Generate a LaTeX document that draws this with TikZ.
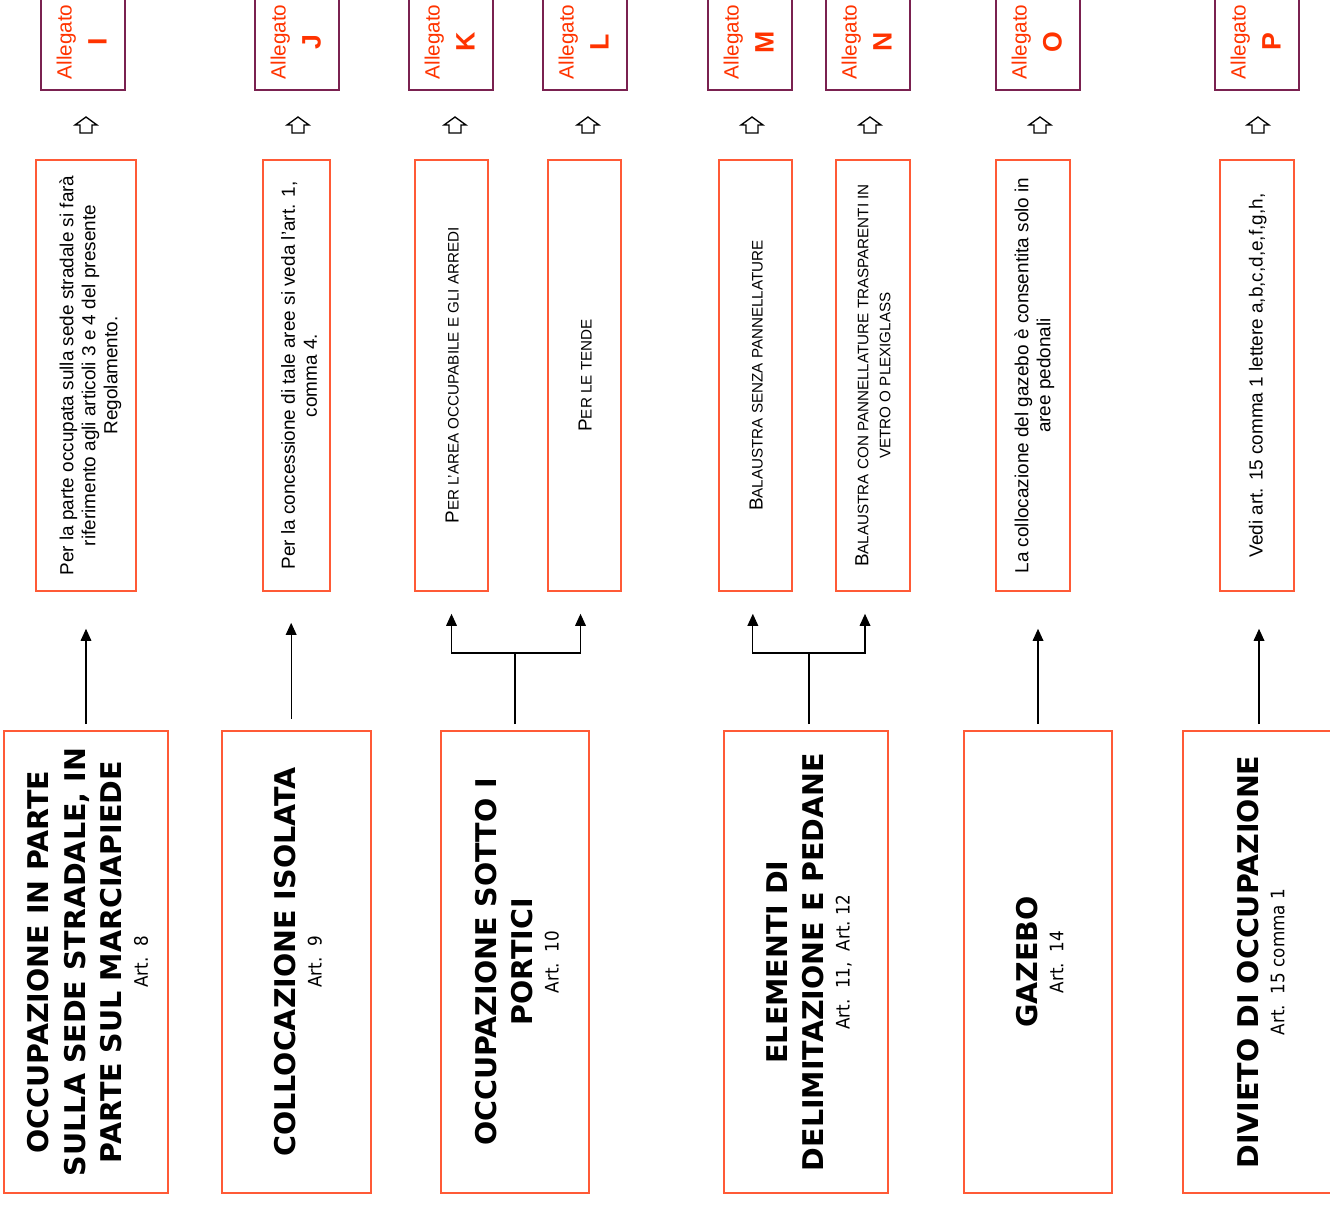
\documentclass[tikz,border=0pt]{standalone}
\usepackage{graphicx}
\usepackage{xcolor}
\usepackage{fontspec}
\setmainfont{Liberation Sans}
\newfontfamily\verdana{DejaVu Sans}
\newfontfamily\artfont{DejaVu Sans Condensed}
\usepackage{tikz}
\usetikzlibrary{arrows.meta}

\definecolor{boxred}{HTML}{FF5A36}
\definecolor{allred}{HTML}{FF3300}
\definecolor{allborder}{HTML}{7A2150}

\newcommand{\titlestyle}{\verdana\bfseries\fontsize{21.4}{27.4}\selectfont}
\newcommand{\artstyle}{\artfont\mdseries\fontsize{14}{16}\selectfont}
\newcommand{\notestyle}{\fontsize{14.2}{16.5}\selectfont}
\newcommand{\fsc}[2]{{\fontsize{14.2}{16.5}\selectfont #1}{\fontsize{11.4}{13}\selectfont #2}}
% rotated text, nudged to the right by half of #1
\newcommand{\turned}[2][7.5pt]{\hspace{#1}\rotatebox{90}{#2}}
\newcommand{\headtext}[2]{\turned{\titlestyle\begin{tabular}{@{}c@{}}#1\\[-8pt]\artstyle #2\end{tabular}}}
\newcommand{\allegato}[1]{\turned[2pt]{\fontsize{15.5}{18}\selectfont\begin{tabular}{@{}c@{}}Allegato\\[7pt]{\fontsize{20}{24}\selectfont\bfseries #1}\end{tabular}}}

\begin{document}
\begin{tikzpicture}[x=0.75pt, y=-0.75pt,
    mainbox/.style={draw=boxred, line width=1.2pt, minimum height=346.5pt, inner sep=0pt},
    notebox/.style={draw=boxred, line width=1.2pt, minimum height=323.25pt, inner sep=0pt},
    allbox/.style={draw=allborder, line width=1.2pt, minimum width=63pt, minimum height=72pt, inner sep=0pt, text=allred},
    conn/.style={line width=0.9pt, -{Triangle[length=9pt,width=8pt]}},
    upmark/.pic={\draw[line width=1pt] (-6,8) -- (-6,0) -- (-11,0) -- (0,-8) -- (11,0) -- (6,0) -- (6,8) -- cycle;}]
    \useasboundingbox (0,0) rectangle (1330,1207);
    \clip (0,0) rectangle (1330,1207);

    % Main boxes
    \node[mainbox, minimum width=123pt] (m1) at (86,962) {\headtext{OCCUPAZIONE IN PARTE\\SULLA SEDE STRADALE, IN\\PARTE SUL MARCIAPIEDE}{Art.~~8}};
    \node[mainbox, minimum width=111.75pt] (m2) at (296.5,962) {\headtext{COLLOCAZIONE ISOLATA}{Art.~~9}};
    \node[mainbox, minimum width=111pt] (m3) at (515,962) {\headtext{OCCUPAZIONE SOTTO I\\PORTICI}{Art.~~10}};
    \node[mainbox, minimum width=123pt] (m4) at (806,962) {\headtext{ELEMENTI DI\\DELIMITAZIONE E PEDANE}{Art.~~11,~~Art.~12}};
    \node[mainbox, minimum width=111pt] (m5) at (1038,962) {\headtext{GAZEBO}{Art.~~14}};
    \node[mainbox, minimum width=114pt] (m6) at (1259,962) {\headtext{DIVIETO DI OCCUPAZIONE}{Art.~~15 comma 1}};

    % Note boxes
    \node[notebox, minimum width=75pt] (tI) at (86,375.5) {\turned{\notestyle\begin{tabular}{@{}c@{}}Per la parte occupata sulla sede stradale si farà\\riferimento agli articoli 3 e 4 del presente\\Regolamento.\end{tabular}}};
    \node[notebox, minimum width=50.25pt] (tJ) at (296.5,375.5) {\turned{\notestyle\begin{tabular}{@{}c@{}}Per la concessione di tale aree si veda l’art. 1,\\comma 4.\end{tabular}}};
    \node[notebox, minimum width=54.75pt] (tK) at (451.5,375.5) {\turned[1pt]{\fsc{P}{ER L’AREA OCCUPABILE E GLI ARREDI}}};
    \node[notebox, minimum width=54.75pt] (tL) at (584.5,375.5) {\turned[1pt]{\fsc{P}{ER LE TENDE}}};
    \node[notebox, minimum width=54.75pt] (tM) at (755.5,375.5) {\turned[1pt]{\fsc{B}{ALAUSTRA SENZA PANNELLATURE}}};
    \node[notebox, minimum width=55.5pt] (tN) at (873,375.5) {\turned[3pt]{\notestyle\begin{tabular}{@{}c@{}}\fsc{B}{ALAUSTRA CON PANNELLATURE TRASPARENTI IN}\\{\fontsize{11.4}{13}\selectfont VETRO O PLEXIGLASS}\end{tabular}}};
    \node[notebox, minimum width=55.5pt] (tO) at (1033,375.5) {\turned[3pt]{\notestyle\begin{tabular}{@{}c@{}}La collocazione del gazebo è consentita solo in\\aree pedonali\end{tabular}}};
    \node[notebox, minimum width=55.5pt] (tP) at (1257,375.5) {\turned[1pt]{\notestyle Vedi art. 15 comma 1 lettere a,b,c,d,e,f,g,h,}};

    % Allegati
    \node[allbox] (aI) at (83,42) {\allegato{I}};
    \node[allbox] (aJ) at (297,42) {\allegato{J}};
    \node[allbox] (aK) at (451,42) {\allegato{K}};
    \node[allbox] (aL) at (585,42) {\allegato{L}};
    \node[allbox] (aM) at (750,42) {\allegato{M}};
    \node[allbox] (aN) at (868,42) {\allegato{N}};
    \node[allbox] (aO) at (1038,42) {\allegato{O}};
    \node[allbox] (aP) at (1257,42) {\allegato{P}};

    % Hollow arrows
    \pic at (86,125) {upmark};
    \pic at (298,125) {upmark};
    \pic at (455,125) {upmark};
    \pic at (588,125) {upmark};
    \pic at (752,125) {upmark};
    \pic at (870,125) {upmark};
    \pic at (1040,125) {upmark};
    \pic at (1258,125) {upmark};

    % Single connectors
    \draw[conn, shorten <=4.5pt, shorten >=27.75pt] (m1.north) -- (m1.north |- tI.south);
    \draw[conn, shorten <=8.25pt, shorten >=23.25pt] ([xshift=-4pt]m2.north) -- ([xshift=-4pt]m2.north |- tJ.south);
    \draw[conn, shorten <=4.5pt, shorten >=27.75pt] (m5.north) -- (m5.north |- tO.south);
    \draw[conn, shorten <=4.5pt, shorten >=27.75pt] (m6.north) -- (m6.north |- tP.south);

    % Forks
    \coordinate (k3) at (515,653);
    \coordinate (k4) at (809,653);
    \draw[line width=0.9pt, shorten <=4.5pt] (m3.north) -- (k3);
    \draw[conn, shorten >=16.5pt] (k3) -| (tK.south);
    \draw[conn, shorten >=16.5pt] (k3) -| ([xshift=-3pt]tL.south);
    \draw[line width=0.9pt, shorten <=4.5pt] (m4.north -| k4) -- (k4);
    \draw[conn, shorten >=16.5pt] (k4) -| ([xshift=-2pt]tM.south);
    \draw[conn, shorten >=16.5pt] (k4) -| ([xshift=-6pt]tN.south);
\end{tikzpicture}
\end{document}
